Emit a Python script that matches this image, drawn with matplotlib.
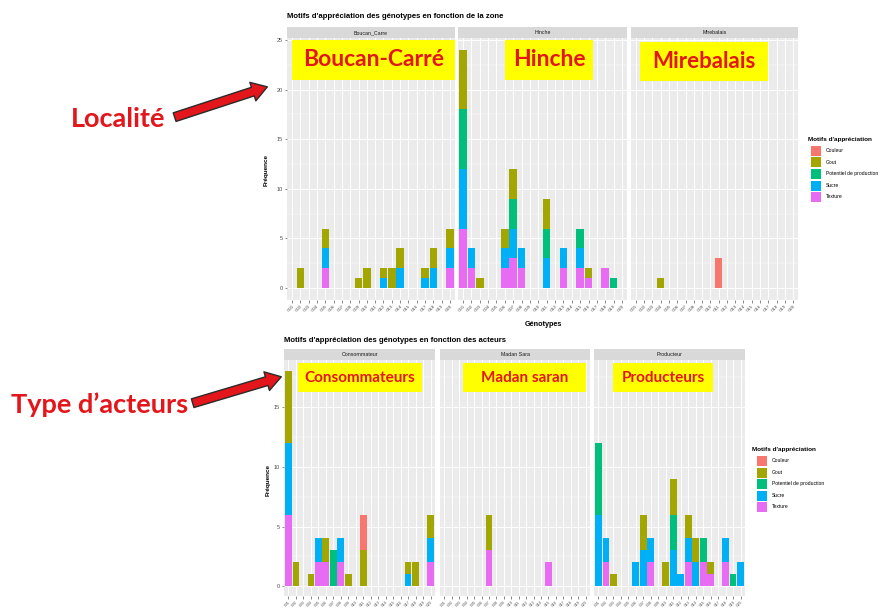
import matplotlib
matplotlib.use("Agg")
import matplotlib.pyplot as plt
from matplotlib.patches import Rectangle, FancyArrowPatch
import numpy as np

W, H = 888, 609

genotypes = ["G01", "G02", "G03", "G04", "G05", "G06", "G07", "G08", "G09", "G10",
             "G11", "G12", "G13", "G14", "G15", "G16", "G17", "G18", "G19", "G20"]
motifs = ["Couleur", "Gout", "Potentiel de production", "Sucre", "Texture"]
motif_colors = ["#F8766D", "#A3A500", "#00BF7D", "#00B0F6", "#E76BF3"]

# --- Zone facets ---
zones = ["Boucan_Carre", "Hinche", "Mirebalais"]
boucan_couleur = [0, 0, 0, 0, 0, 0, 0, 0, 0, 0, 0, 0, 0, 0, 0, 0, 0, 0, 0, 0]
boucan_gout = [0, 2, 0, 0, 2, 0, 0, 0, 1, 2, 0, 1, 2, 2, 0, 0, 1, 2, 0, 2]
boucan_potentiel = [0, 0, 0, 0, 0, 0, 0, 0, 0, 0, 0, 0, 0, 0, 0, 0, 0, 0, 0, 0]
boucan_sucre = [0, 0, 0, 0, 2, 0, 0, 0, 0, 0, 0, 1, 0, 2, 0, 0, 1, 2, 0, 2]
boucan_texture = [0, 0, 0, 0, 2, 0, 0, 0, 0, 0, 0, 0, 0, 0, 0, 0, 0, 0, 0, 2]

hinche_couleur = [0, 0, 0, 0, 0, 0, 0, 0, 0, 0, 0, 0, 0, 0, 0, 0, 0, 0, 0, 0]
hinche_gout = [6, 0, 1, 0, 0, 2, 3, 0, 0, 0, 3, 0, 0, 0, 0, 1, 0, 0, 0, 0]
hinche_potentiel = [6, 0, 0, 0, 0, 0, 3, 0, 0, 0, 3, 0, 0, 0, 2, 0, 0, 0, 1, 0]
hinche_sucre = [6, 2, 0, 0, 0, 2, 3, 2, 0, 0, 3, 0, 2, 0, 2, 0, 0, 0, 0, 0]
hinche_texture = [6, 2, 0, 0, 0, 2, 3, 2, 0, 0, 0, 0, 2, 0, 2, 1, 0, 2, 0, 0]

mirebalais_couleur = [0, 0, 0, 0, 0, 0, 0, 0, 0, 0, 3, 0, 0, 0, 0, 0, 0, 0, 0, 0]
mirebalais_gout = [0, 0, 0, 1, 0, 0, 0, 0, 0, 0, 0, 0, 0, 0, 0, 0, 0, 0, 0, 0]
mirebalais_potentiel = [0, 0, 0, 0, 0, 0, 0, 0, 0, 0, 0, 0, 0, 0, 0, 0, 0, 0, 0, 0]
mirebalais_sucre = [0, 0, 0, 0, 0, 0, 0, 0, 0, 0, 0, 0, 0, 0, 0, 0, 0, 0, 0, 0]
mirebalais_texture = [0, 0, 0, 0, 0, 0, 0, 0, 0, 0, 0, 0, 0, 0, 0, 0, 0, 0, 0, 0]

# --- Actor facets ---
acteurs = ["Consommateur", "Madan Sara", "Producteur"]
conso_couleur = [0, 0, 0, 0, 0, 0, 0, 0, 0, 0, 3, 0, 0, 0, 0, 0, 0, 0, 0, 0]
conso_gout = [6, 2, 0, 1, 0, 2, 0, 0, 1, 0, 3, 0, 0, 0, 0, 0, 1, 2, 0, 2]
conso_potentiel = [0, 0, 0, 0, 0, 0, 3, 0, 0, 0, 0, 0, 0, 0, 0, 0, 0, 0, 0, 0]
conso_sucre = [6, 0, 0, 0, 2, 0, 0, 2, 0, 0, 0, 0, 0, 0, 0, 0, 1, 0, 0, 2]
conso_texture = [6, 0, 0, 0, 2, 2, 0, 2, 0, 0, 0, 0, 0, 0, 0, 0, 0, 0, 0, 2]

madan_couleur = [0, 0, 0, 0, 0, 0, 0, 0, 0, 0, 0, 0, 0, 0, 0, 0, 0, 0, 0, 0]
madan_gout = [0, 0, 0, 0, 0, 0, 3, 0, 0, 0, 0, 0, 0, 0, 0, 0, 0, 0, 0, 0]
madan_potentiel = [0, 0, 0, 0, 0, 0, 0, 0, 0, 0, 0, 0, 0, 0, 0, 0, 0, 0, 0, 0]
madan_sucre = [0, 0, 0, 0, 0, 0, 0, 0, 0, 0, 0, 0, 0, 0, 0, 0, 0, 0, 0, 0]
madan_texture = [0, 0, 0, 0, 0, 0, 3, 0, 0, 0, 0, 0, 0, 0, 2, 0, 0, 0, 0, 0]

prod_couleur = [0, 0, 0, 0, 0, 0, 0, 0, 0, 0, 0, 0, 0, 0, 0, 0, 0, 0, 0, 0]
prod_gout = [0, 0, 1, 0, 0, 0, 3, 0, 0, 2, 3, 0, 2, 2, 0, 1, 0, 0, 0, 0]
prod_potentiel = [6, 0, 0, 0, 0, 0, 0, 0, 0, 0, 3, 0, 0, 0, 2, 0, 0, 0, 1, 0]
prod_sucre = [6, 2, 0, 0, 0, 2, 3, 2, 0, 0, 3, 1, 2, 2, 0, 0, 0, 2, 0, 2]
prod_texture = [0, 2, 0, 0, 0, 0, 0, 2, 0, 0, 0, 0, 2, 0, 2, 1, 0, 2, 0, 0]

zone_data = [
    [boucan_couleur, boucan_gout, boucan_potentiel, boucan_sucre, boucan_texture],
    [hinche_couleur, hinche_gout, hinche_potentiel, hinche_sucre, hinche_texture],
    [mirebalais_couleur, mirebalais_gout, mirebalais_potentiel, mirebalais_sucre, mirebalais_texture],
]
acteur_data = [
    [conso_couleur, conso_gout, conso_potentiel, conso_sucre, conso_texture],
    [madan_couleur, madan_gout, madan_potentiel, madan_sucre, madan_texture],
    [prod_couleur, prod_gout, prod_potentiel, prod_sucre, prod_texture],
]

plt.rcParams['font.family'] = ['Liberation Sans', 'DejaVu Sans']
fig = plt.figure(figsize=(W / 100, H / 100), dpi=100)
fig.patch.set_facecolor("white")

TXT = "#4D4D4D"


def fx(x):
    return x / W


def fy(y):
    return 1 - y / H


def add_ax(x0, y0, x1, y1):
    return fig.add_axes([fx(x0), fy(y1), (x1 - x0) / W, (y1 - y0) / H])


def draw_panel(ax, series, ylo, yhi, yticks, show_yticks, xfs):
    n = len(genotypes)
    x = np.arange(n)
    ax.set_facecolor("#EBEBEB")
    for s in ax.spines.values():
        s.set_visible(False)
    ax.set_xlim(-0.6, n - 0.4)
    ax.set_ylim(ylo, yhi)
    for yv in np.arange(yticks[0] + 2.5, yhi, 5):
        ax.axhline(yv, color="white", lw=0.35, zorder=0)
    for yv in yticks:
        ax.axhline(yv, color="white", lw=0.7, zorder=0)
    for xv in x:
        ax.axvline(xv, color="white", lw=0.7, zorder=0)
    bottom = np.zeros(n)
    # stack order (bottom -> top): Texture, Sucre, Potentiel, Gout, Couleur
    for i in range(len(motifs) - 1, -1, -1):
        vals = np.array(series[i], dtype=float)
        ax.bar(x, vals, bottom=bottom, width=0.9, color=motif_colors[i],
               linewidth=0, zorder=2)
        bottom += vals
    ax.set_xticks(x)
    ax.set_xticklabels(genotypes, rotation=45, ha="right", rotation_mode="anchor",
                       fontsize=xfs, color=TXT)
    ax.set_yticks(yticks)
    ax.tick_params(axis="both", color="#333333", length=1.8, width=0.4, pad=1.2)
    if show_yticks:
        ax.set_yticklabels([str(v) for v in yticks], fontsize=4, color=TXT)
    else:
        ax.set_yticklabels([])
        ax.tick_params(axis="y", length=0)


def add_strip(x0, x1, y0, y1, label):
    fig.add_artist(Rectangle((fx(x0), fy(y1)), (x1 - x0) / W, (y1 - y0) / H,
                             transform=fig.transFigure, facecolor="#D9D9D9",
                             edgecolor="none"))
    fig.text(fx((x0 + x1) / 2), fy((y0 + y1) / 2), label, fontsize=3.8,
             color="#1A1A1A", ha="center", va="center")


def add_legend(x, y_title, key_x, key_y0, step, label_x):
    fig.text(fx(x), fy(y_title), "Motifs d'appréciation", fontsize=4.6,
             fontweight="bold", color="black", ha="left", va="center")
    for i, (m, c) in enumerate(zip(motifs, motif_colors)):
        yk = key_y0 + i * step
        fig.add_artist(Rectangle((fx(key_x), fy(yk + 10)), 10 / W, 10 / H,
                                 transform=fig.transFigure, facecolor=c,
                                 edgecolor="none"))
        fig.text(fx(label_x), fy(yk + 5), m, fontsize=3.6, color="black",
                 ha="left", va="center")


# ---------------- Top chart (zone) ----------------
top_panels = [(287, 455), (458, 627), (631, 798)]
top_y0, top_y1 = 38, 300
top_yticks = [0, 5, 10, 15, 20, 25]
for k, ((x0, x1), name) in enumerate(zip(top_panels, zones)):
    ax = add_ax(x0, top_y0, x1, top_y1)
    draw_panel(ax, zone_data[k], -1.2, 25.2, top_yticks, k == 0, 3.2)
    add_strip(x0, x1, 27, top_y0, name)

fig.text(fx(287), fy(17), "Motifs d'appréciation des génotypes en fonction de la zone",
         fontsize=5.6, fontweight="bold", ha="left", va="center")
fig.text(fx(266), fy(170), "Fréquence", fontsize=4.6, fontweight="bold",
         rotation=90, ha="center", va="center")
fig.text(fx(543), fy(325), "Génotypes", fontsize=5.2, fontweight="bold",
         ha="center", va="center")
add_legend(808, 139, 811, 146, 11.5, 826)

# ---------------- Bottom chart (acteurs) ----------------
bot_panels = [(284, 435), (440, 590), (594, 745)]
bot_y0, bot_y1 = 360, 596
bot_yticks = [0, 5, 10, 15]
for k, ((x0, x1), name) in enumerate(zip(bot_panels, acteurs)):
    ax = add_ax(x0, bot_y0, x1, bot_y1)
    draw_panel(ax, acteur_data[k], -0.8, 18.9, bot_yticks, k == 0, 2.6)
    add_strip(x0, x1, 349, bot_y0, name)

fig.text(fx(284), fy(340), "Motifs d'appréciation des génotypes en fonction des acteurs",
         fontsize=5.6, fontweight="bold", ha="left", va="center")
fig.text(fx(268), fy(480), "Fréquence", fontsize=4.6, fontweight="bold",
         rotation=90, ha="center", va="center")
add_legend(752, 449, 757, 456, 11.5, 772)

# ---------------- Annotations ----------------
RED = "#E3161B"


def yellow_box(x0, y0, x1, y1, text, size):
    fig.add_artist(Rectangle((fx(x0), fy(y1)), (x1 - x0) / W, (y1 - y0) / H,
                             transform=fig.transFigure, facecolor="#FFFF00",
                             edgecolor="none", zorder=5))
    fig.text(fx((x0 + x1) / 2), fy((y0 + y1) / 2), text, fontsize=size,
             fontweight="bold", color=RED, ha="center", va="center",
             family="Lato", zorder=6)


yellow_box(292, 40, 455, 80, "Boucan-Carré", 16.5)
yellow_box(505, 40, 593, 80, "Hinche", 16.5)
yellow_box(640, 42, 768, 81, "Mirebalais", 16)
yellow_box(298, 363, 422, 392, "Consommateurs", 11)
yellow_box(463, 363, 586, 392, "Madan saran", 11)
yellow_box(613, 363, 713, 392, "Producteurs", 11)

fig.text(fx(118), fy(119), "Localité", fontsize=19.5, fontweight="bold",
         color=RED, ha="center", va="center", family="Lato")
fig.text(fx(100), fy(405), "Type d’acteurs", fontsize=19.5, fontweight="bold",
         color=RED, ha="center", va="center", family="Lato")


def arrow(xa, ya, xb, yb):
    a = FancyArrowPatch((fx(xa), fy(ya)), (fx(xb), fy(yb)),
                        transform=fig.transFigure,
                        arrowstyle="simple,head_length=1.1,head_width=1.4,tail_width=0.65",
                        mutation_scale=10, facecolor="#E3161B", edgecolor="#2B2B2B",
                        linewidth=1.0, zorder=7)
    fig.add_artist(a)


arrow(172, 118, 270, 86)
arrow(190, 404, 284, 376)

fig.savefig("out.png", dpi=100, facecolor="white")
